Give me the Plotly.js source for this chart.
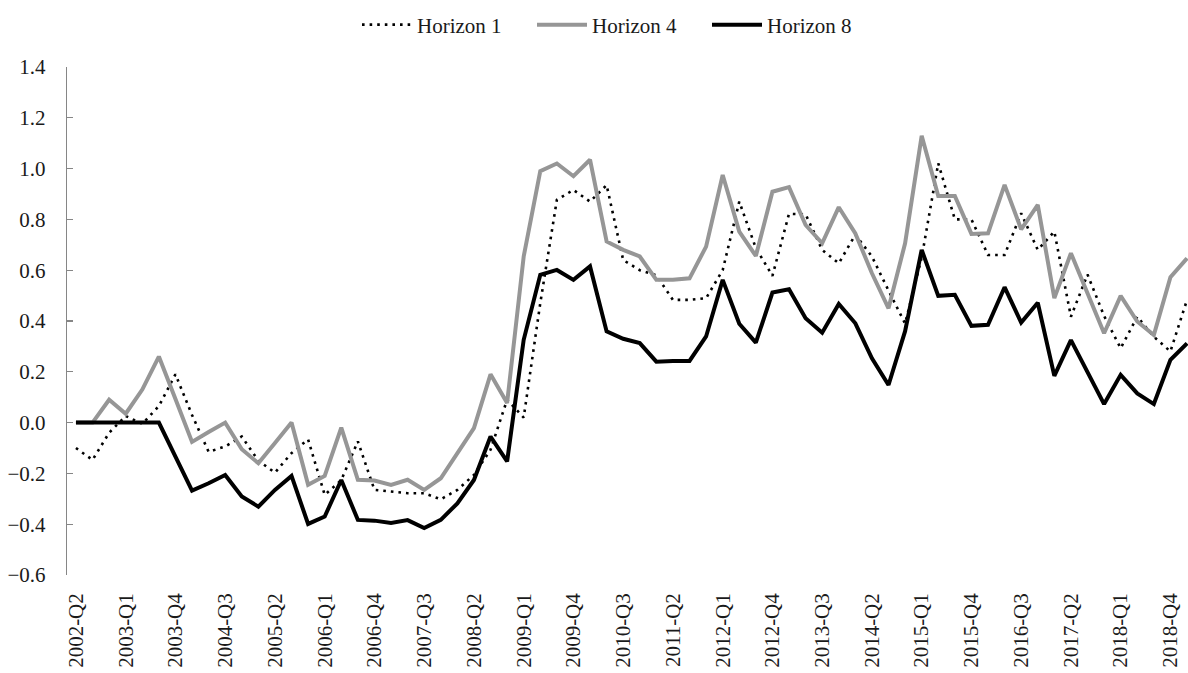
<!DOCTYPE html>
<html>
<head>
<meta charset="utf-8">
<script src="https://cdn.plot.ly/plotly-3.0.1.min.js"></script>
<style>
html,body{margin:0;padding:0;background:#fff;}
#chart{width:1188px;height:673px;}
</style>
</head>
<body>
<div id="chart"></div>
<script>
var quarters = [
"2002-Q2","2002-Q3","2002-Q4",
"2003-Q1","2003-Q2","2003-Q3","2003-Q4",
"2004-Q1","2004-Q2","2004-Q3","2004-Q4",
"2005-Q1","2005-Q2","2005-Q3","2005-Q4",
"2006-Q1","2006-Q2","2006-Q3","2006-Q4",
"2007-Q1","2007-Q2","2007-Q3","2007-Q4",
"2008-Q1","2008-Q2","2008-Q3","2008-Q4",
"2009-Q1","2009-Q2","2009-Q3","2009-Q4",
"2010-Q1","2010-Q2","2010-Q3","2010-Q4",
"2011-Q1","2011-Q2","2011-Q3","2011-Q4",
"2012-Q1","2012-Q2","2012-Q3","2012-Q4",
"2013-Q1","2013-Q2","2013-Q3","2013-Q4",
"2014-Q1","2014-Q2","2014-Q3","2014-Q4",
"2015-Q1","2015-Q2","2015-Q3","2015-Q4",
"2016-Q1","2016-Q2","2016-Q3","2016-Q4",
"2017-Q1","2017-Q2","2017-Q3","2017-Q4",
"2018-Q1","2018-Q2","2018-Q3","2018-Q4",
"2019-Q1"
];

var horizon1 = [
-0.10,-0.147,-0.04,
0.026,-0.005,0.065,0.19,
0.03,-0.115,-0.094,-0.055,
-0.15,-0.197,-0.12,-0.066,
-0.285,-0.226,-0.074,-0.265,
-0.271,-0.278,-0.278,-0.302,
-0.265,-0.206,-0.107,0.09,
0.02,0.47,0.877,0.916,
0.87,0.935,0.64,0.60,
0.58,0.483,0.483,0.49,
0.60,0.87,0.687,0.578,
0.822,0.82,0.68,0.627,
0.74,0.654,0.52,0.39,
0.65,1.021,0.80,0.80,
0.66,0.66,0.824,0.68,
0.752,0.417,0.583,0.42,
0.293,0.417,0.338,0.28,
0.483
];

var horizon4 = [
0.00,0.00,0.09,
0.035,0.13,0.26,0.093,
-0.076,-0.037,0.00,-0.105,
-0.16,-0.08,0.00,-0.245,
-0.21,-0.02,-0.225,-0.228,
-0.245,-0.225,-0.265,-0.219,
-0.12,-0.022,0.19,0.077,
0.654,0.99,1.02,0.97,
1.035,0.713,0.68,0.654,
0.562,0.562,0.568,0.693,
0.975,0.752,0.656,0.909,
0.927,0.778,0.706,0.848,
0.745,0.588,0.45,0.706,
1.129,0.892,0.892,0.743,
0.745,0.936,0.761,0.857,
0.49,0.667,0.509,0.352,
0.499,0.398,0.345,0.572,
0.647
];

var horizon8 = [
0,0,0,
0,0,0,-0.134,
-0.268,-0.239,-0.206,-0.291,
-0.331,-0.265,-0.21,-0.399,
-0.37,-0.226,-0.383,-0.386,
-0.395,-0.384,-0.415,-0.383,
-0.318,-0.226,-0.055,-0.153,
0.326,0.582,0.601,0.562,
0.615,0.359,0.33,0.313,
0.24,0.243,0.243,0.339,
0.562,0.389,0.315,0.512,
0.525,0.411,0.354,0.467,
0.391,0.253,0.148,0.36,
0.68,0.499,0.503,0.381,
0.385,0.533,0.394,0.472,
0.184,0.325,0.2,0.073,
0.188,0.115,0.073,0.247,
0.312
];

var tickLabels = ["2002-Q2","2003-Q1","2003-Q4","2004-Q3","2005-Q2","2006-Q1","2006-Q4",
"2007-Q3","2008-Q2","2009-Q1","2009-Q4","2010-Q3","2011-Q2","2012-Q1","2012-Q4",
"2013-Q3","2014-Q2","2015-Q1","2015-Q4","2016-Q3","2017-Q2","2018-Q1","2018-Q4"];

var serif = "'Liberation Serif', 'Times New Roman', 'DejaVu Serif', serif";

var traces = [
  {x: quarters, y: horizon1, name: "Horizon 1", type: "scatter", mode: "lines",
   line: {color: "#000000", width: 2.6, dash: "2.6px,5px"}},
  {x: quarters, y: horizon4, name: "Horizon 4", type: "scatter", mode: "lines",
   line: {color: "#969696", width: 4}},
  {x: quarters, y: horizon8, name: "Horizon 8", type: "scatter", mode: "lines",
   line: {color: "#000000", width: 4}}
];

var layout = {
  width: 1188, height: 673,
  margin: {l: 67, r: 0, t: 67, b: 98, autoexpand: false},
  paper_bgcolor: "#ffffff", plot_bgcolor: "#ffffff",
  font: {family: serif, size: 21, color: "#1a1a1a"},
  showlegend: true,
  legend: {orientation: "h", x: 0.2587, xanchor: "left", y: 1.0827, yanchor: "middle",
    font: {family: serif, size: 21, color: "#1a1a1a"},
    entrywidth: 110, entrywidthmode: "pixels", itemwidth: 50, tracegroupgap: 0},
  xaxis: {type: "category", range: [-0.54, 67.06], tickmode: "array",
    tickvals: tickLabels, ticktext: tickLabels, tickangle: -90,
    showgrid: false, zeroline: false, showline: false, ticks: "",
    ticklabelstandoff: 13,
    tickfont: {family: serif, size: 21, color: "#1a1a1a"}},
  yaxis: {range: [-0.6, 1.4], dtick: 0.2, tick0: 0, tickformat: ".1f",
    showgrid: false, zeroline: false, showline: true, linecolor: "#868686", linewidth: 1.3,
    ticks: "inside", ticklen: 6, tickcolor: "#868686", tickwidth: 1.3,
    ticklabelstandoff: 16,
    tickfont: {family: serif, size: 21, color: "#1a1a1a"}}
};

Plotly.newPlot("chart", traces, layout, {displayModeBar: false, staticPlot: true});
</script>
</body>
</html>
